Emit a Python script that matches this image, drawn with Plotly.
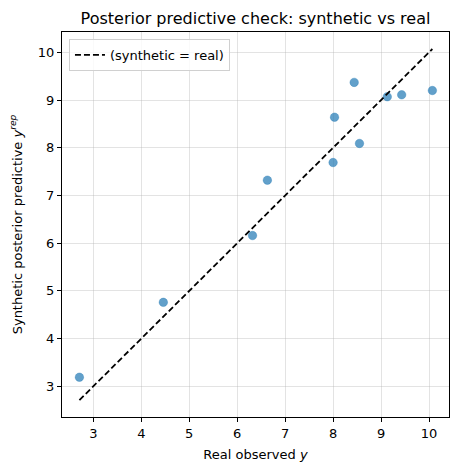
import plotly.graph_objects as go

real_y = [2.71, 4.46, 6.32, 6.63, 8.00, 8.03, 8.44, 8.55, 9.13, 9.43, 10.07]
synth_y = [3.19, 4.76, 6.16, 7.32, 7.69, 8.64, 9.37, 8.09, 9.07, 9.11, 9.20]
x_ticks = [3, 4, 5, 6, 7, 8, 9, 10]
y_ticks = [3, 4, 5, 6, 7, 8, 9, 10]

lo = min(min(real_y), min(synth_y))
hi = max(max(real_y), max(synth_y))

FONT = "DejaVu Sans"

fig = go.Figure()
fig.add_trace(go.Scatter(
    x=real_y, y=synth_y, mode="markers",
    marker=dict(color="rgba(31,119,180,0.7)", size=8.5,
                line=dict(color="rgba(31,119,180,0.7)", width=0.5)),
    showlegend=False, hoverinfo="x+y"))
fig.add_trace(go.Scatter(
    x=[lo, hi], y=[lo, hi], mode="lines",
    line=dict(color="black", dash="6px,3px", width=1.8),
    name="(synthetic = real)"))

axis_common = dict(
    showgrid=True, gridcolor="rgba(176,176,176,0.35)", gridwidth=1,
    showline=True, linecolor="black", linewidth=1, mirror=True,
    ticks="outside", ticklen=4, tickwidth=1, tickcolor="black",
    tickfont=dict(family=FONT, size=13, color="black"),
    zeroline=False,
)

fig.update_layout(
    width=459, height=474,
    margin=dict(l=62, r=10, t=32, b=57),
    paper_bgcolor="white", plot_bgcolor="white",
    title=dict(text="Posterior predictive check: synthetic vs real",
               font=dict(family=FONT, size=16, color="black"),
               x=0.5, xanchor="center", xref="paper",
               y=1 - 18/474, yanchor="middle"),
    xaxis=dict(range=[2.347, 10.417], tickvals=x_ticks,
               title=dict(text="Real observed <i>y</i>",
                          font=dict(family=FONT, size=13, color="black"), standoff=10),
               **axis_common),
    yaxis=dict(range=[2.357, 10.426], tickvals=y_ticks,
               title=dict(text="Synthetic posterior predictive <i>y</i><sup><i>rep</i></sup>",
                          font=dict(family=FONT, size=13, color="black"), standoff=12),
               **axis_common),
    legend=dict(x=0.018, y=0.982, xanchor="left", yanchor="top",
                bgcolor="rgba(255,255,255,0.8)", bordercolor="#d0d0d0", borderwidth=1,
                font=dict(family=FONT, size=13, color="black")),
    font=dict(family=FONT),
)

fig.write_html("out.html")
